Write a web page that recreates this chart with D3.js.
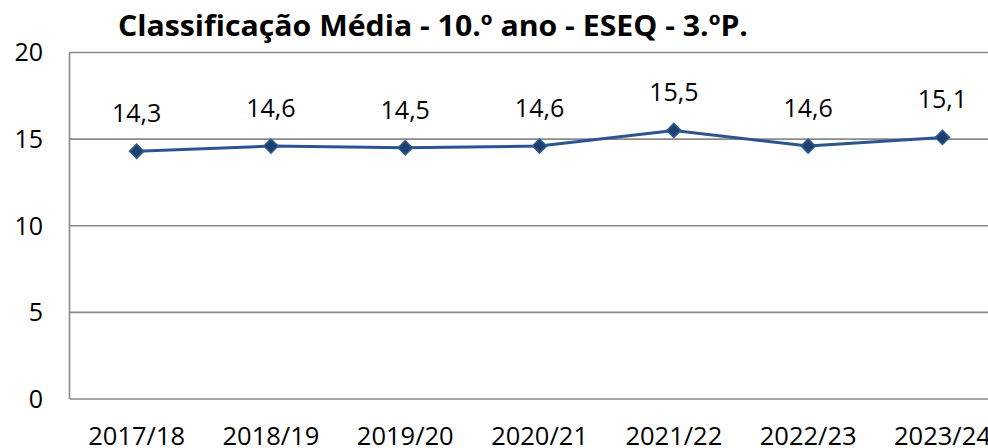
<!DOCTYPE html>
<html>
<head>
<meta charset="utf-8">
<script src="https://cdn.jsdelivr.net/npm/d3@7"></script>
<style>
  body { margin: 0; background: #fff; }
  svg { display: block; font-family: "Open Sans", sans-serif; }
</style>
</head>
<body>
<svg width="988" height="448"></svg>
<script>
var years = ["2017/18", "2018/19", "2019/20", "2020/21", "2021/22", "2022/23", "2023/24"];
var media = [14.3, 14.6, 14.5, 14.6, 15.5, 14.6, 15.1];
var yTicks = [0, 5, 10, 15, 20];
var title = "Classificação Média - 10.º ano - ESEQ - 3.ºP.";

var svg = d3.select("svg");

var x = d3.scaleBand()
    .domain(years)
    .range([69.5, 1009.6]);

var y = d3.scaleLinear()
    .domain([0, 20])
    .range([399, 52.5]);

var cx = function(d, i) { return x(years[i]) + x.bandwidth() / 2; };

// grid
svg.append("g")
  .selectAll("line")
  .data(yTicks)
  .enter().append("line")
    .attr("x1", 69.5)
    .attr("x2", 1009.6)
    .attr("y1", function(d) { return y(d); })
    .attr("y2", function(d) { return y(d); })
    .attr("stroke", "#8a8a8a")
    .attr("stroke-width", 1.6);

svg.append("line")
    .attr("x1", 69.5).attr("x2", 69.5)
    .attr("y1", y(20)).attr("y2", y(0))
    .attr("stroke", "#8a8a8a")
    .attr("stroke-width", 1.6);

// y labels
svg.append("g")
  .selectAll("text")
  .data(yTicks)
  .enter().append("text")
    .attr("x", 43)
    .attr("y", function(d) { return y(d); })
    .attr("dy", "0.35em")
    .attr("text-anchor", "end")
    .attr("font-size", 25)
    .attr("fill", "#000")
    .text(function(d) { return d; });

// x labels
svg.append("g")
  .selectAll("text")
  .data(years)
  .enter().append("text")
    .attr("x", function(d) { return x(d) + x.bandwidth() / 2; })
    .attr("y", 445)
    .attr("text-anchor", "middle")
    .attr("font-size", 25.5)
    .attr("fill", "#000")
    .text(function(d) { return d; });

// line
var line = d3.line()
    .x(cx)
    .y(function(d) { return y(d); });

svg.append("path")
    .datum(media)
    .attr("d", line)
    .attr("fill", "none")
    .attr("stroke", "#2b5590")
    .attr("stroke-width", 3);

svg.append("g")
  .selectAll("path")
  .data(media)
  .enter().append("path")
    .attr("d", d3.symbol().type(d3.symbolSquare).size(100))
    .attr("transform", function(d, i) { return "translate(" + cx(d, i) + "," + y(d) + ") rotate(45)"; })
    .attr("fill", "#1f3f6e")
    .attr("stroke", "#2e5b95")
    .attr("stroke-width", 1.5);

// data labels
svg.append("g")
  .selectAll("text")
  .data(media)
  .enter().append("text")
    .attr("x", cx)
    .attr("y", function(d) { return y(d) - 29; })
    .attr("text-anchor", "middle")
    .attr("font-size", 25)
    .attr("fill", "#000")
    .text(function(d) { return d3.format(".1f")(d).replace(".", ","); });

// title
svg.append("text")
    .attr("x", 118)
    .attr("y", 36)
    .attr("font-size", 29)
    .attr("font-weight", "bold")
    .attr("textLength", 630)
    .attr("lengthAdjust", "spacingAndGlyphs")
    .attr("fill", "#000")
    .text(title);
</script>
</body>
</html>
